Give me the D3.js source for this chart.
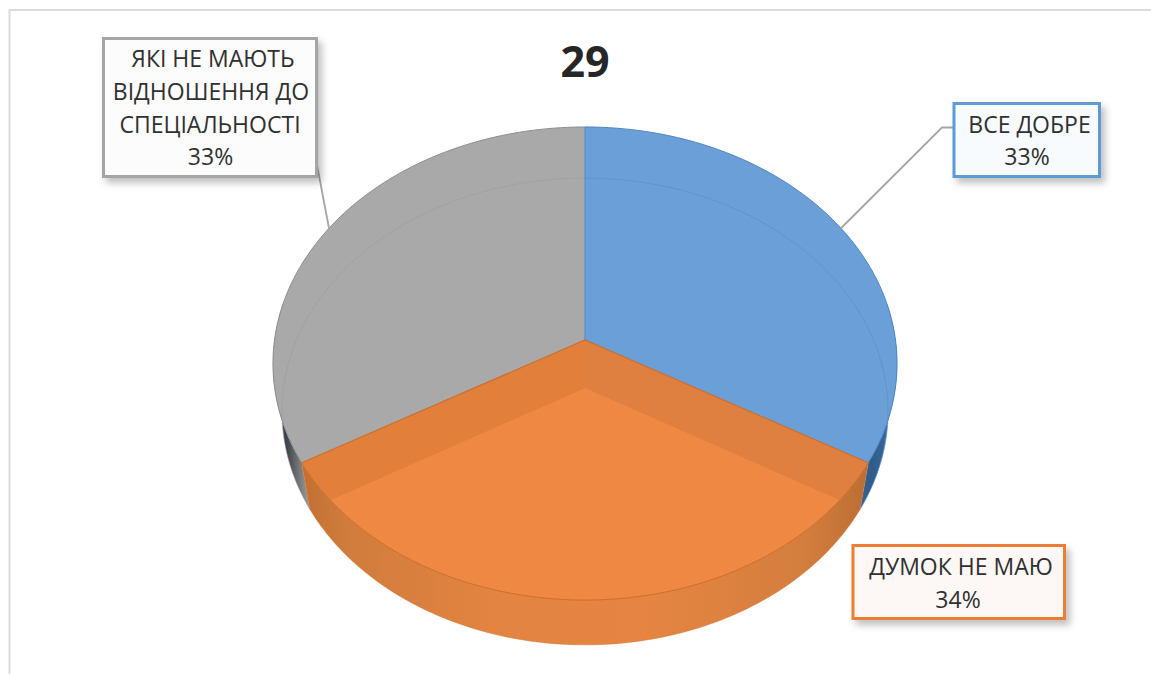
<!DOCTYPE html>
<html>
<head>
<meta charset="utf-8">
<script src="https://cdnjs.cloudflare.com/ajax/libs/d3/7.8.5/d3.min.js"></script>
<style>
html, body { margin: 0; padding: 0; background: #fff; overflow: hidden; }
text { font-family: "Open Sans", sans-serif; fill: #303030; }
</style>
</head>
<body>
<div id="chart"></div>
<script>
const title = "29";
const categories = ["ВСЕ ДОБРЕ", "ДУМОК НЕ МАЮ", "ЯКІ НЕ МАЮТЬ ВІДНОШЕННЯ ДО СПЕЦІАЛЬНОСТІ"];
const values = [33.3, 33.4, 33.3];
const percentLabels = ["33%", "34%", "33%"];

const width = 1151;
const height = 674;

const svg = d3.select("#chart").append("svg")
    .attr("width", width)
    .attr("height", height)
    .style("display", "block");

const defs = svg.append("defs");

//-----------------------------FILTER & GRADIENTS---------------//
const shadow = defs.append("filter")
    .attr("id", "box-shadow")
    .attr("x", "-10%").attr("y", "-15%")
    .attr("width", "125%").attr("height", "140%");
shadow.append("feDropShadow")
    .attr("dx", 4).attr("dy", 5)
    .attr("stdDeviation", 3.5)
    .attr("flood-color", "#000")
    .attr("flood-opacity", 0.25);

function wallGradient(id, stops) {
    const g = defs.append("linearGradient")
        .attr("id", id)
        .attr("gradientUnits", "userSpaceOnUse")
        .attr("x1", 273).attr("x2", 897)
        .attr("y1", 0).attr("y2", 0);
    stops.forEach(function(s) {
        g.append("stop").attr("offset", s[0]).attr("stop-color", s[1]);
    });
}
wallGradient("wall-orange", [[0, "#b8682c"], [0.12, "#d07c3c"], [0.35, "#e38440"], [0.6, "#e58541"], [0.85, "#d47e3e"], [1, "#b0662e"]]);
wallGradient("wall-blue", [[0.9, "#4a77a6"], [0.96, "#2f5b88"], [1, "#3f74ad"]]);
wallGradient("wall-gray", [[0, "#5c6068"], [0.02, "#3a3f48"], [0.05, "#8a8a8a"], [0.06, "#a0a0a0"]]);

//----------------------------PROJECTION------------------------//
// pie is tilted with perspective, so the centre is not the middle of the ellipse
const topFace = { cx: 585, cy: 340, a: 310.5, b: 234.2, k: 0.0994 };
const bottomFace = { cx: 585, cy: 388, a: 301.5, b: 231, k: 0.1007 };

function project(face, angle) {
    const u = Math.sin(angle), v = -Math.cos(angle);
    const w = 1 - face.k * v;
    return [face.cx + face.a * u / w, face.cy + face.b * v / w];
}
function rim(face, a0, a1) {
    const n = Math.max(2, Math.ceil(Math.abs(a1 - a0) * 60));
    return d3.range(n + 1).map(function(i) {
        return project(face, a0 + (a1 - a0) * i / n);
    });
}
const line = d3.line();

const pie = d3.pie().sort(null).value(function(d) { return d; });
const slices = pie(values);
const blue = slices[0], orange = slices[1], gray = slices[2];

function midAngle(s) { return (s.startAngle + s.endAngle) / 2; }
function wedge(face, s) {
    return line([[face.cx, face.cy]].concat(rim(face, s.startAngle, s.endAngle))) + "Z";
}
function wall(a0, a1) {
    return line(rim(topFace, a0, a1).concat(rim(bottomFace, a1, a0))) + "Z";
}

//-----------------------------FRAME----------------------------//
svg.append("path")
    .attr("d", line([[9.5, height], [9.5, 10], [width, 10]]))
    .attr("fill", "none")
    .attr("stroke", "#dcdcdc")
    .attr("stroke-width", 2);

//----------------------------WALLS-----------------------------//
svg.append("path").attr("d", wall(gray.startAngle, Math.PI * 1.55)).attr("fill", "url(#wall-gray)");
svg.append("path").attr("d", wall(Math.PI * 0.45, blue.endAngle)).attr("fill", "url(#wall-blue)");
svg.append("path").attr("d", wall(orange.startAngle, orange.endAngle))
    .attr("fill", "url(#wall-orange)")
    .attr("stroke", "#d2763a")
    .attr("stroke-width", 0.5);

//----------------------------TOP FACES-------------------------//
svg.append("path").attr("d", wedge(topFace, gray)).attr("fill", "#a9a9a9");
svg.append("path").attr("d", wedge(topFace, blue)).attr("fill", "#6a9fd8");

// the top is see-through: the bottom face shows as a lighter orange
svg.append("path").attr("d", wedge(topFace, orange)).attr("fill", "#e27f3b");
defs.append("clipPath").attr("id", "orange-top")
    .append("path").attr("d", wedge(topFace, orange));
svg.append("rect")
    .attr("x", topFace.cx).attr("y", topFace.cy)
    .attr("width", 320).attr("height", 280)
    .attr("clip-path", "url(#orange-top)")
    .attr("fill", "#df8041");
svg.append("path")
    .attr("d", wedge(bottomFace, orange))
    .attr("clip-path", "url(#orange-top)")
    .attr("fill", "#ee8842");

// faint far rim of the bottom face
svg.append("path")
    .attr("d", line(rim(bottomFace, gray.startAngle, gray.endAngle)))
    .attr("fill", "none").attr("stroke", "#9d9d9d").attr("stroke-width", 1).attr("opacity", 0.6);
svg.append("path")
    .attr("d", line(rim(bottomFace, blue.startAngle, blue.endAngle)))
    .attr("fill", "none").attr("stroke", "#5a92cc").attr("stroke-width", 1).attr("opacity", 0.7);

//----------------------------EDGES-----------------------------//
svg.append("path").attr("d", line(rim(topFace, gray.startAngle, gray.endAngle)))
    .attr("fill", "none").attr("stroke", "#8f8f8f").attr("stroke-width", 1);
svg.append("path").attr("d", line(rim(topFace, blue.startAngle, blue.endAngle)))
    .attr("fill", "none").attr("stroke", "#4f86c0").attr("stroke-width", 1);
svg.append("path").attr("d", line(rim(topFace, orange.startAngle, orange.endAngle)))
    .attr("fill", "none").attr("stroke", "#cf6f2c").attr("stroke-width", 1);
svg.append("path").attr("d", line([project(topFace, 0), [topFace.cx, topFace.cy]]))
    .attr("stroke", "#5c8fc8").attr("stroke-width", 1.2);
svg.append("path")
    .attr("d", line([project(topFace, orange.startAngle), [topFace.cx, topFace.cy], project(topFace, orange.endAngle)]))
    .attr("fill", "none").attr("stroke", "#c9702f").attr("stroke-width", 1.2);

//----------------------------LEADERS---------------------------//
const leaderColor = "#a6a6a6";
svg.append("path")
    .attr("d", line([project(topFace, midAngle(blue)), [942, 127.5], [953, 127.5]]))
    .attr("fill", "none").attr("stroke", leaderColor).attr("stroke-width", 1.8);
svg.append("path")
    .attr("d", line([project(topFace, midAngle(gray)), [317, 165]]))
    .attr("fill", "none").attr("stroke", leaderColor).attr("stroke-width", 1.8);

//----------------------------LABELS----------------------------//
const fontSize = 23;
function labelBox(x0, y0, x1, y1, stroke, fill) {
    svg.append("rect")
        .attr("x", x0).attr("y", y0)
        .attr("width", x1 - x0).attr("height", y1 - y0)
        .attr("fill", fill)
        .attr("stroke", stroke)
        .attr("stroke-width", 3)
        .attr("filter", "url(#box-shadow)");
}
function labelText(x, y, str) {
    svg.append("text")
        .attr("x", x).attr("y", y)
        .attr("text-anchor", "middle")
        .attr("font-size", fontSize)
        .text(str);
}

labelBox(954, 103.5, 1099.5, 176.5, "#5b9bd5", "#f8fbfe");
labelText(1029.5, 133, categories[0]);
labelText(1027, 165, percentLabels[0]);

labelBox(853, 545.5, 1064.5, 618.5, "#ed7d31", "#fdf8f5");
labelText(961, 575, categories[1]);
labelText(958, 608, percentLabels[1]);

labelBox(103.5, 38.5, 316.5, 176.5, "#a5a5a5", "#fcfcfc");
labelText(213, 67, "ЯКІ НЕ МАЮТЬ");
labelText(211, 100, "ВІДНОШЕННЯ ДО");
labelText(210, 132.5, "СПЕЦІАЛЬНОСТІ");
labelText(210.5, 165, percentLabels[2]);

//----------------------------TITLE-----------------------------//
svg.append("text")
    .attr("x", 585).attr("y", 77)
    .attr("text-anchor", "middle")
    .attr("font-size", 43)
    .attr("font-weight", 700)
    .style("fill", "#262626")
    .text(title);
</script>
</body>
</html>
